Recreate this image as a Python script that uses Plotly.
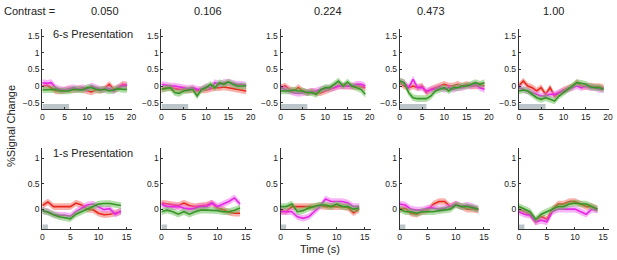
import plotly.graph_objects as go

# ---------------- data ----------------
CONTRASTS = ["0.050", "0.106", "0.224", "0.473", "1.00"]
ROW_LABELS = ["6-s Presentation", "1-s Presentation"]
TIME_6S = list(range(20))
TIME_1S = list(range(15))
STIM_DUR = [6, 1]          # stimulus duration (s) for each row
SEM = [0.1, 0.065]         # half-width of shaded band per row

RED_6S = [
    [0.0, 0.02, -0.05, -0.15, -0.15, -0.12, -0.1, -0.12, -0.08, -0.1, -0.15, -0.18, -0.12, -0.13, -0.08, 0.05, -0.1, -0.05, 0.05, 0.03],
    [-0.1, -0.05, -0.05, -0.08, -0.1, -0.1, -0.12, -0.1, -0.15, -0.12, -0.12, -0.08, -0.05, -0.05, -0.03, -0.05, -0.08, -0.1, -0.12, -0.15],
    [-0.05, 0.0, -0.1, -0.15, -0.05, -0.15, -0.2, -0.15, -0.2, -0.2, -0.15, -0.1, -0.05, 0.0, 0.0, 0.0, 0.0, 0.0, -0.02, -0.05],
    [0.1, 0.0, -0.05, 0.0, -0.05, 0.0, -0.2, -0.1, -0.05, 0.0, 0.05, 0.0, 0.0, 0.05, 0.0, 0.05, 0.0, 0.0, 0.02, 0.0],
    [0.0, 0.15, 0.0, -0.05, -0.15, -0.05, -0.25, -0.05, -0.3, -0.2, -0.12, -0.07, -0.02, 0.1, 0.0, -0.02, 0.0, -0.02, -0.02, -0.05],
]
MAGENTA_6S = [
    [0.1, 0.08, 0.1, -0.05, -0.1, -0.12, -0.08, -0.05, -0.1, -0.05, -0.1, 0.0, -0.05, -0.1, -0.1, -0.08, -0.15, -0.05, 0.0, 0.0],
    [0.05, 0.02, 0.0, 0.0, -0.02, -0.05, -0.08, -0.05, -0.1, -0.1, -0.02, -0.05, 0.1, 0.05, 0.1, 0.12, 0.08, 0.05, 0.05, 0.02],
    [-0.05, -0.1, -0.15, -0.2, -0.22, -0.2, -0.2, -0.18, -0.15, -0.1, -0.08, -0.05, -0.05, 0.0, 0.0, 0.0, 0.0, 0.05, 0.05, 0.0],
    [0.15, 0.1, -0.05, 0.2, -0.05, -0.05, -0.15, -0.12, -0.1, -0.05, -0.1, -0.05, -0.1, -0.05, -0.05, 0.0, 0.0, 0.05, -0.05, -0.1],
    [-0.05, -0.1, -0.15, -0.2, -0.25, -0.3, -0.3, -0.25, -0.25, -0.2, -0.15, -0.1, -0.05, 0.0, -0.05, 0.0, -0.05, -0.05, -0.1, -0.1],
]
GREEN_6S = [
    [-0.12, -0.12, -0.12, -0.1, -0.15, -0.15, -0.15, -0.1, -0.1, -0.12, -0.05, -0.05, -0.1, -0.12, -0.1, -0.15, -0.12, -0.08, -0.1, -0.1],
    [-0.1, -0.08, -0.05, -0.2, -0.22, -0.15, -0.12, -0.1, -0.3, -0.1, -0.05, 0.05, -0.05, 0.1, 0.05, 0.12, 0.05, 0.0, 0.0, 0.0],
    [-0.15, -0.15, -0.15, -0.12, -0.15, -0.15, -0.2, -0.2, -0.25, -0.12, -0.05, -0.05, 0.05, 0.15, 0.0, 0.12, 0.0, -0.05, -0.1, -0.25],
    [0.15, 0.1, -0.2, -0.35, -0.38, -0.38, -0.38, -0.3, -0.15, -0.1, -0.05, -0.15, -0.05, -0.05, 0.0, 0.0, 0.05, 0.1, 0.05, 0.1],
    [-0.15, -0.12, -0.15, -0.25, -0.35, -0.4, -0.35, -0.4, -0.45, -0.3, -0.2, -0.1, 0.0, 0.1, 0.08, 0.05, -0.02, -0.05, -0.05, -0.1],
]
RED_1S = [
    [0.07, 0.14, 0.05, 0.05, 0.05, 0.05, 0.12, 0.08, 0.0, -0.01, -0.08, -0.11, -0.1, -0.08, -0.05],
    [0.12, 0.1, 0.09, 0.07, 0.12, 0.07, 0.05, 0.07, 0.08, 0.12, 0.02, -0.01, -0.06, -0.08, -0.08],
    [-0.03, -0.05, 0.05, 0.05, 0.05, 0.05, 0.05, 0.07, 0.05, 0.05, 0.05, 0.05, 0.03, -0.07, 0.0],
    [0.0, 0.02, -0.08, -0.1, -0.05, -0.02, 0.1, 0.15, 0.15, 0.05, 0.1, 0.05, 0.0, 0.0, -0.02],
    [0.0, -0.05, -0.1, -0.25, -0.15, -0.2, 0.0, 0.1, 0.1, 0.15, 0.15, 0.1, 0.05, 0.05, 0.0],
]
MAGENTA_1S = [
    [-0.03, -0.05, -0.1, -0.12, -0.12, -0.14, -0.05, 0.01, 0.08, 0.1, 0.05, -0.01, 0.01, -0.1, -0.04],
    [0.1, 0.05, 0.05, 0.05, 0.02, 0.0, 0.02, 0.05, 0.05, 0.12, 0.05, 0.1, 0.15, 0.22, 0.1],
    [-0.05, -0.05, -0.05, -0.15, -0.18, -0.15, -0.05, 0.05, 0.2, 0.15, 0.15, 0.15, 0.12, 0.05, 0.05],
    [0.1, 0.08, 0.0, -0.02, -0.02, 0.02, 0.02, 0.0, 0.02, 0.05, 0.1, 0.05, 0.08, 0.05, 0.0],
    [-0.05, -0.1, -0.12, -0.25, -0.22, -0.25, -0.05, 0.0, 0.0, 0.0, 0.0, -0.05, -0.1, 0.0, -0.02],
]
GREEN_1S = [
    [-0.03, -0.06, -0.11, -0.15, -0.17, -0.19, -0.1, -0.05, 0.0, 0.05, 0.1, 0.11, 0.11, 0.09, 0.07],
    [-0.05, -0.02, -0.05, -0.1, -0.05, -0.1, -0.05, -0.02, -0.02, -0.02, -0.03, -0.05, -0.05, -0.02, 0.02],
    [0.05, 0.05, 0.1, -0.05, -0.03, 0.02, 0.05, 0.08, 0.08, 0.05, 0.1, 0.05, 0.05, 0.0, 0.02],
    [0.0, -0.05, -0.05, -0.08, -0.05, -0.05, -0.05, -0.03, -0.02, 0.0, 0.08, 0.05, 0.05, 0.02, 0.0],
    [0.05, 0.0, -0.05, -0.2, -0.1, -0.05, 0.0, 0.05, 0.05, 0.1, 0.12, 0.1, 0.1, 0.05, 0.0],
]

# ---------------- styles ----------------
W, H = 617, 260
FONT = "Liberation Sans, Arial, sans-serif"
SERIES = [
    ("red", "rgba(232,40,28,1)", "rgba(242,100,90,0.5)"),
    ("magenta", "rgba(230,40,230,1)", "rgba(238,105,238,0.5)"),
    ("green", "rgba(55,150,40,1)", "rgba(100,190,80,0.5)"),
]
ROWS = [
    dict(t=TIME_6S, data=[RED_6S, MAGENTA_6S, GREEN_6S], yr=[-0.69, 1.71], xr=[0, 20.2],
         yt=[-0.5, 0, 0.5, 1, 1.5], xt=[0, 5, 10, 15, 20], top=29, bot=109, bar=0.15),
    dict(t=TIME_1S, data=[RED_1S, MAGENTA_1S, GREEN_1S], yr=[-0.39, 1.2], xr=[0, 16.05],
         yt=[0, 0.5, 1], xt=[0, 5, 10, 15], top=148, bot=229, bar=0.09),
]
X0, DX, PW = 40.7, 120.3, 91

fig = go.Figure()
layout = dict(width=W, height=H, margin=dict(l=0, r=0, t=0, b=0),
              paper_bgcolor="white", plot_bgcolor="white", showlegend=False,
              font=dict(family=FONT, color="#222"))
shapes, annotations = [], []

for r, row in enumerate(ROWS):
    for c in range(5):
        n = r * 5 + c + 1
        xa, ya = f"x{n}", f"y{n}"
        for s, (name, lc, fc) in enumerate(SERIES):
            y = row["data"][s][c]
            lo = [v - SEM[r] for v in y]
            hi = [v + SEM[r] for v in y]
            fig.add_trace(go.Scatter(x=row["t"], y=lo, mode="lines", line=dict(width=0),
                                     xaxis=xa, yaxis=ya, hoverinfo="skip"))
            fig.add_trace(go.Scatter(x=row["t"], y=hi, mode="lines", line=dict(width=0),
                                     fill="tonexty", fillcolor=fc,
                                     xaxis=xa, yaxis=ya, hoverinfo="skip"))
            fig.add_trace(go.Scatter(x=row["t"], y=y, mode="lines", line=dict(color=lc, width=1.6),
                                     xaxis=xa, yaxis=ya, name=name))
        left = (X0 + DX * c) / W
        right = (X0 + DX * c + PW) / W
        key = "" if n == 1 else str(n)
        axis_common = dict(showgrid=False, zeroline=False, showline=True, linecolor="#333",
                           linewidth=1, ticks="inside", ticklen=2, tickcolor="#333",
                           tickfont=dict(size=8.5, color="#222", family=FONT), fixedrange=True)
        layout["xaxis" + key] = dict(domain=[left, right], range=row["xr"], anchor=ya,
                                     tickvals=row["xt"], **axis_common)
        layout["yaxis" + key] = dict(domain=[1 - row["bot"] / H, 1 - row["top"] / H],
                                     range=row["yr"], anchor=xa, tickvals=row["yt"],
                                     **axis_common)
        shapes.append(dict(type="rect", xref=xa, yref=ya, x0=0, x1=STIM_DUR[r],
                           y0=row["yr"][0], y1=row["yr"][0] + row["bar"],
                           fillcolor="#bcc6ca", line=dict(width=0), layer="below"))
        if r == 0:
            annotations.append(dict(text=CONTRASTS[c], x=(left + right) / 2 + 2 / W, y=1 - 11 / H,
                                    xref="paper", yref="paper", yanchor="middle", showarrow=False,
                                    font=dict(size=11, color="#222")))
    annotations.append(dict(text=ROW_LABELS[r], x=49 / W, y=1 - (row["top"] + 5) / H,
                            xref="paper", yref="paper", xanchor="left", yanchor="middle",
                            showarrow=False, font=dict(size=11, color="#222")))

annotations.append(dict(text="Contrast =", x=0 / W, y=1 - 11 / H, xref="paper", yref="paper",
                        xanchor="left", yanchor="middle", showarrow=False,
                        font=dict(size=11, color="#222")))
annotations.append(dict(text="%Signal Change", x=9 / W, y=1 - 126 / H, xref="paper",
                        yref="paper", textangle=-90, xanchor="center", yanchor="middle",
                        showarrow=False, font=dict(size=11, color="#222")))
annotations.append(dict(text="Time (s)", x=321 / W, y=1 - 249 / H, xref="paper", yref="paper",
                        yanchor="middle", showarrow=False, font=dict(size=11, color="#222")))

layout["shapes"] = shapes
layout["annotations"] = annotations
fig.update_layout(**layout)
fig.write_html("out.html", config={"displayModeBar": False, "staticPlot": True},
               post_script="document.body.style.margin='0';document.body.style.overflow='hidden';")
